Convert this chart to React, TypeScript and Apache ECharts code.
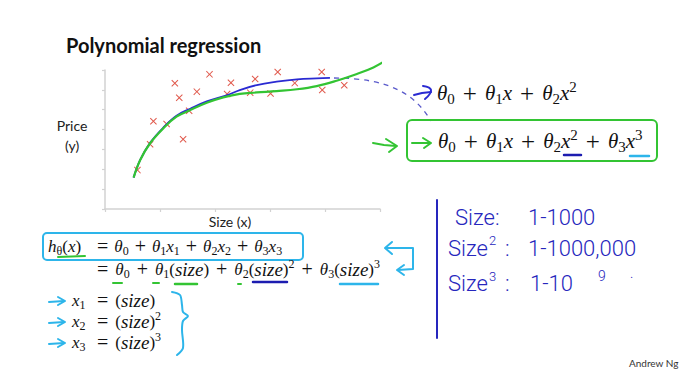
import React, { useEffect, useRef } from 'react';
import * as echarts from 'echarts';

// Training examples (Size, Price) in axis units
const sizeValues = [0.59, 0.82, 0.88, 1.12, 1.42, 1.27, 1.35, 1.53, 1.67, 1.9, 2.22, 2.29, 2.64, 2.73, 3.01, 3.14, 3.45, 3.94, 3.95, 4.35];
const priceValues = [1.96, 3.26, 4.42, 4.28, 3.51, 6.33, 5.6, 4.95, 5.91, 6.78, 5.79, 6.36, 5.86, 6.55, 5.82, 6.9, 6.34, 6.9, 5.99, 6.23];

// Quadratic fit (blue)
const quadX = [0.52, 0.64, 0.82, 1.06, 1.3, 1.55, 1.85, 2.21, 2.45, 2.76, 3.12, 3.49, 3.85, 4.09];
const quadY = [1.58, 2.47, 3.33, 4.1, 4.7, 5.05, 5.42, 5.72, 5.99, 6.24, 6.41, 6.53, 6.58, 6.6];

// Cubic fit (green)
const cubicX = [0.52, 0.64, 0.82, 1.06, 1.3, 1.55, 1.85, 2.15, 2.45, 2.76, 3.12, 3.49, 3.85, 4.21, 4.58, 4.88, 5.09];
const cubicY = [1.58, 2.47, 3.31, 4.06, 4.65, 4.98, 5.35, 5.62, 5.8, 5.87, 5.94, 6.03, 6.19, 6.46, 6.8, 7.13, 7.45];

const xTickCount = 5;
const yTickCount = 7;

const BLUE = '#2a2ad2';
const GREEN = '#33c433';
const CYAN = '#2db5ea';
const RED = '#d8301f';
const HAND = '#2626bd';
const SERIF = 'Liberation Serif';

const mathRich = (fs: number, pad: number) => {
  const L = Math.round(fs * 1.3);
  const s = Math.round(fs * 0.7);
  return {
    v: { fontFamily: SERIF, fontStyle: 'italic', fontSize: fs, lineHeight: L, verticalAlign: 'middle', fill: '#111' },
    w: { fontFamily: SERIF, fontStyle: 'italic', fontSize: Math.round(fs * 1.1), lineHeight: L, verticalAlign: 'middle', fill: '#111' },
    n: { fontFamily: SERIF, fontSize: fs, lineHeight: L, verticalAlign: 'middle', fill: '#111' },
    o: { fontFamily: SERIF, fontSize: Math.round(fs * 1.2), lineHeight: L, verticalAlign: 'middle', padding: [0, pad, 0, pad], fill: '#111' },
    b: { fontFamily: SERIF, fontSize: s, lineHeight: s, verticalAlign: 'bottom', fill: '#111' },
    p: { fontFamily: SERIF, fontSize: s, lineHeight: s, verticalAlign: 'top', fill: '#111' },
  };
};

const mathText = (x: number, y: number, text: string, fs: number, pad: number) => ({
  type: 'text',
  x,
  y,
  style: {
    text,
    rich: mathRich(fs, pad),
    fontFamily: SERIF,
    fontSize: fs,
    align: 'left',
    textAlign: 'left',
    verticalAlign: 'middle',
    textVerticalAlign: 'middle',
  },
});

const plainText = (x: number, y: number, text: string, opts: any = {}) => ({
  type: 'text',
  x,
  y,
  style: {
    text,
    fill: opts.fill || '#222',
    fontFamily: opts.fontFamily || 'Lato',
    fontSize: opts.fontSize || 14,
    fontWeight: opts.fontWeight || 'normal',
    lineHeight: opts.lineHeight,
    align: opts.align || 'left',
    textAlign: opts.align || 'left',
    verticalAlign: 'middle',
    textVerticalAlign: 'middle',
  },
});

const stroke = (points: number[][], color: string, lineWidth = 2, extra: any = {}) => ({
  type: 'polyline',
  shape: { points, smooth: extra.smooth || 0 },
  style: { stroke: color, lineWidth, fill: 'none', lineCap: 'round', lineJoin: 'round', lineDash: extra.lineDash },
});

const hand = (x: number, y: number, text: string, fs = 22) =>
  plainText(x, y, text, { fontFamily: 'Roboto', fontSize: fs, fontWeight: 300, fill: HAND });

const App: React.FC = () => {
  const ref = useRef<HTMLDivElement>(null);

  useEffect(() => {
    document.body.style.margin = '0';
    if (!ref.current) return;
    const chart = echarts.init(ref.current, undefined, { renderer: 'svg' });

    const axisCommon = {
      type: 'value' as const,
      min: 0,
      interval: 1,
      axisLine: { show: true, lineStyle: { color: '#d2d2d2', width: 1.5 } },
      axisTick: { show: true, length: 3, lineStyle: { color: '#d2d2d2', width: 1.2 } },
      axisLabel: { show: false },
      splitLine: { show: false },
    };

    const TOP = 21;
    const TOPPAD = 8;
    const LOW = 17;

    const graphics: any[] = [
      plainText(66, 45, 'Polynomial regression', { fontSize: 20, fontWeight: 'bold', fill: '#111' }),
      plainText(72, 135, 'Price\n(y)', { fontSize: 14, align: 'center', lineHeight: 20 }),
      plainText(230, 221, 'Size (x)', { fontSize: 14, align: 'center' }),

      // dashed connector and arrows (top right)
      {
        type: 'bezierCurve',
        shape: { x1: 334, y1: 78, cpx1: 392, cpy1: 78, cpx2: 416, cpy2: 96, x2: 431, y2: 121 },
        style: { stroke: '#5a5acb', lineWidth: 1.3, lineDash: [5, 5], fill: 'none' },
      },
      stroke([[414, 95], [422, 93], [431, 92]], BLUE, 2),
      stroke([[423, 86], [431, 90], [425, 99]], BLUE, 2, { smooth: 0.5 }),
      stroke([[373, 143], [384, 145], [396, 146]], GREEN, 2),
      stroke([[386, 139], [397, 146], [389, 152]], GREEN, 2),
      {
        type: 'rect',
        shape: { x: 407, y: 120, width: 250, height: 41, r: 5 },
        style: { fill: 'none', stroke: GREEN, lineWidth: 2 },
      },
      stroke([[412, 143], [430, 143]], GREEN, 2),
      stroke([[423, 138], [431, 143], [424, 148]], GREEN, 2),
      mathText(437, 93, '{v|θ}{b|0}{o|+}{v|θ}{b|1}{v|x}{o|+}{v|θ}{b|2}{v|x}{p|2}', TOP, TOPPAD),
      mathText(438, 141, '{v|θ}{b|0}{o|+}{v|θ}{b|1}{v|x}{o|+}{v|θ}{b|2}{v|x}{p|2}{o|+}{v|θ}{b|3}{v|x}{p|3}', TOP, TOPPAD),
      stroke([[564, 155], [581, 155]], '#1c1cb0', 2.5),
      stroke([[630, 156], [649, 156]], CYAN, 2.5),

      // hypothesis block
      {
        type: 'rect',
        shape: { x: 43, y: 233, width: 260, height: 27, r: 4 },
        style: { fill: 'none', stroke: CYAN, lineWidth: 2 },
      },
      mathText(48, 246, '{v|h}{b|θ}{n|(}{v|x}{n|)}', LOW, 5),
      mathText(91, 246, '{o|=}{v|θ}{b|0}{o|+}{v|θ}{b|1}{v|x}{b|1}{o|+}{v|θ}{b|2}{v|x}{b|2}{o|+}{v|θ}{b|3}{v|x}{b|3}', LOW, 6),
      stroke([[58, 257], [85, 256]], GREEN, 2),
      mathText(90, 269, '{o|=}{v|θ}{b|0}{o|+}{v|θ}{b|1}{n|(}{w|size}{n|)}{o|+}{v|θ}{b|2}{n|(}{w|size}{n|)}{p|2}{o|+}{v|θ}{b|3}{n|(}{w|size}{n|)}{p|3}', LOW, 7),
      stroke([[113, 283], [122, 283]], GREEN, 2),
      stroke([[153, 283], [159, 283]], GREEN, 2),
      stroke([[175, 284], [197, 284]], GREEN, 2.5),
      stroke([[238, 284], [241, 284]], GREEN, 2),
      stroke([[253, 282], [287, 282]], '#1c1cb0', 2.5),
      stroke([[340, 284], [378, 284]], CYAN, 2.5),
      // cyan bracket arrow
      stroke([[392, 242], [385, 248], [392, 254]], CYAN, 2),
      stroke([[386, 248], [413, 248], [413, 269], [398, 270]], CYAN, 2),
      stroke([[404, 265], [397, 270], [404, 275]], CYAN, 2),

      // feature definitions
      mathText(72, 300, '{v|x}{b|1}', LOW, 6),
      mathText(90, 300, '{o|=}{n|(}{w|size}{n|)}', LOW, 7),
      mathText(72, 321, '{v|x}{b|2}', LOW, 6),
      mathText(90, 321, '{o|=}{n|(}{w|size}{n|)}{p|2}', LOW, 7),
      mathText(72, 342, '{v|x}{b|3}', LOW, 6),
      mathText(90, 342, '{o|=}{n|(}{w|size}{n|)}{p|3}', LOW, 7),
      ...[301, 322, 343].flatMap((y) => [
        stroke([[49, y + 1], [64, y]], CYAN, 2),
        stroke([[58, y - 4], [65, y], [58, y + 4]], CYAN, 2),
      ]),
      stroke(
        [[172, 292], [180, 295], [182, 305], [183, 312], [188, 316], [183, 321], [182, 330], [183, 348], [177, 355]],
        CYAN,
        2,
        { smooth: 0.3 }
      ),

      // handwritten notes
      stroke([[437, 200], [437, 338]], HAND, 2),
      hand(455, 217, 'Size:'),
      hand(528, 217, '1-1000'),
      hand(448, 248, 'Size'),
      hand(489, 240, '2', 13),
      hand(505, 248, ':'),
      hand(528, 248, '1-1000,000'),
      hand(448, 283, 'Size'),
      hand(489, 276, '3', 13),
      hand(505, 283, ':'),
      hand(530, 283, '1-10'),
      hand(598, 276, '9', 14),
      hand(630, 273, '.', 14),

      plainText(629, 363, 'Andrew Ng', { fontSize: 10, fill: '#333' }),
    ];

    chart.setOption({
      animation: false,
      backgroundColor: '#ffffff',
      grid: { left: 105, top: 70, width: 275, height: 139, containLabel: false },
      xAxis: { ...axisCommon, max: xTickCount },
      yAxis: { ...axisCommon, max: yTickCount },
      series: [
        {
          type: 'scatter',
          data: sizeValues.map((x, i) => [x, priceValues[i]]),
          symbol: 'path://M1,0L5,4L9,0L10,1L6,5L10,9L9,10L5,6L1,10L0,9L4,5L0,1Z',
          symbolSize: 7,
          itemStyle: { color: RED },
          z: 3,
        },
        {
          type: 'line',
          data: quadX.map((x, i) => [x, quadY[i]]),
          smooth: 0.4,
          showSymbol: false,
          lineStyle: { color: BLUE, width: 1.8 },
          z: 4,
        },
        {
          type: 'line',
          data: cubicX.map((x, i) => [x, cubicY[i]]),
          smooth: 0.4,
          showSymbol: false,
          clip: false,
          lineStyle: { color: GREEN, width: 2.2 },
          z: 5,
        },
      ],
      graphic: { elements: graphics },
    });

    return () => chart.dispose();
  }, []);

  return <div ref={ref} style={{ width: 691, height: 382, background: '#fff' }} />;
};

export default App;
